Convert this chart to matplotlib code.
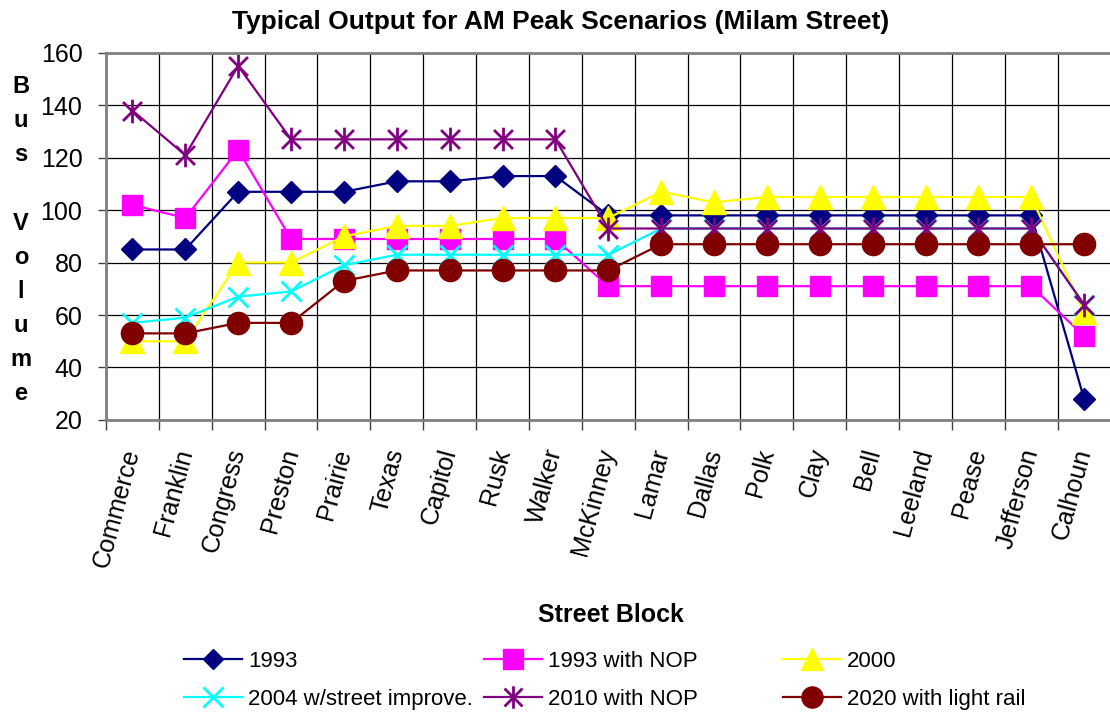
import numpy as np
import matplotlib.pyplot as plt
from matplotlib.path import Path

plt.rcParams['font.family'] = ['Liberation Sans', 'DejaVu Sans']

streets = ["Commerce", "Franklin", "Congress", "Preston", "Prairie", "Texas", "Capitol",
           "Rusk", "Walker", "McKinney", "Lamar", "Dallas", "Polk", "Clay", "Bell",
           "Leeland", "Pease", "Jefferson", "Calhoun"]

v1993 = [85, 85, 107, 107, 107, 111, 111, 113, 113, 98, 98, 98, 98, 98, 98, 98, 98, 98, 28]
v1993_nop = [102, 97, 123, 89, 89, 89, 89, 89, 89, 71, 71, 71, 71, 71, 71, 71, 71, 71, 52]
v2000 = [50, 50, 80, 80, 90, 94, 94, 97, 97, 97, 107, 103, 105, 105, 105, 105, 105, 105, 61]
v2004 = [57, 59, 67, 69, 79, 83, 83, 83, 83, 83, 93, 93, 93, 93, 93, 93, 93, 93, 64]
v2010_nop = [138, 121, 155, 127, 127, 127, 127, 127, 127, 93, 93, 93, 93, 93, 93, 93, 93, 93, 64]
v2020_rail = [53, 53, 57, 57, 73, 77, 77, 77, 77, 77, 87, 87, 87, 87, 87, 87, 87, 87, 87]

# six-armed asterisk like the Excel marker: vertical line plus an X
star = Path([(0, -1), (0, 1), (-0.8, -0.8), (0.8, 0.8), (-0.8, 0.8), (0.8, -0.8)],
            [Path.MOVETO, Path.LINETO, Path.MOVETO, Path.LINETO, Path.MOVETO, Path.LINETO])

x = np.arange(len(streets))

fig = plt.figure(figsize=(11.1, 7.19), dpi=100)
ax = fig.add_axes([0.0955, 0.416, 0.905, 0.5105])

h = []
h += ax.plot(x, v1993, color='#000080', lw=1.6, marker='D', ms=11, label='1993')
h += ax.plot(x, v1993_nop, color='#FF00FF', lw=1.6, marker='s', ms=15, label='1993 with NOP')
h += ax.plot(x, v2000, color='#FFFF00', lw=1.6, marker='^', ms=17, label='2000')
h += ax.plot(x, v2004, color='#00FFFF', lw=1.6, marker='x', ms=15, mew=2, label='2004 w/street improve.')
h += ax.plot(x, v2010_nop, color='#800080', lw=1.6, marker=star, ms=17, mew=2, label='2010 with NOP')
h += ax.plot(x, v2020_rail, color='#800000', lw=1.6, marker='o', ms=16, label='2020 with light rail')

ax.set_xlim(-0.5, len(streets) - 0.5)
ax.set_ylim(20, 160)
ax.set_yticks(np.arange(20, 161, 20))
ax.set_xticks(x)
ax.set_xticklabels(streets, rotation=75, ha='right', va='center', rotation_mode='anchor')
ax.set_xticks(np.arange(-0.5, len(streets), 1), minor=True)
ax.tick_params(axis='x', which='major', length=0, pad=21, labelsize=18)
ax.tick_params(axis='x', which='minor', length=7, width=1, color='#404040')
ax.tick_params(axis='y', length=6, width=1, color='#404040', labelsize=18, pad=11)

ax.grid(True, axis='y', color='black', lw=0.9)
ax.grid(True, axis='x', which='minor', color='black', lw=0.9)
for s in ax.spines.values():
    s.set_color('#808080')
    s.set_linewidth(2)
ax.spines['right'].set_visible(False)

fig.text(0.505, 0.969, 'Typical Output for AM Peak Scenarios (Milam Street)',
         ha='center', va='center', fontsize=19, fontweight='bold')
fig.text(0.55, 0.145, 'Street Block', ha='center', va='center', fontsize=18, fontweight='bold')
fig.text(0.019, 0.666, 'B\nu\ns\n\nV\no\nl\nu\nm\ne', ha='center', va='center',
         fontsize=17, fontweight='bold', linespacing=1.62)

# Excel lays the legend out in three equal-width columns
col_left = [184, 484, 783]
for k in range(3):
    pair = [h[k], h[k + 3]]
    fig.legend(pair, [p.get_label() for p in pair],
               loc='center left', bbox_to_anchor=(col_left[k] / 1110, 0.054),
               frameon=False, fontsize=16, handlelength=2.6, handletextpad=0.27,
               labelspacing=0.78, borderpad=0, borderaxespad=0, markerscale=0.95)

fig.savefig('out.png', dpi=100)
